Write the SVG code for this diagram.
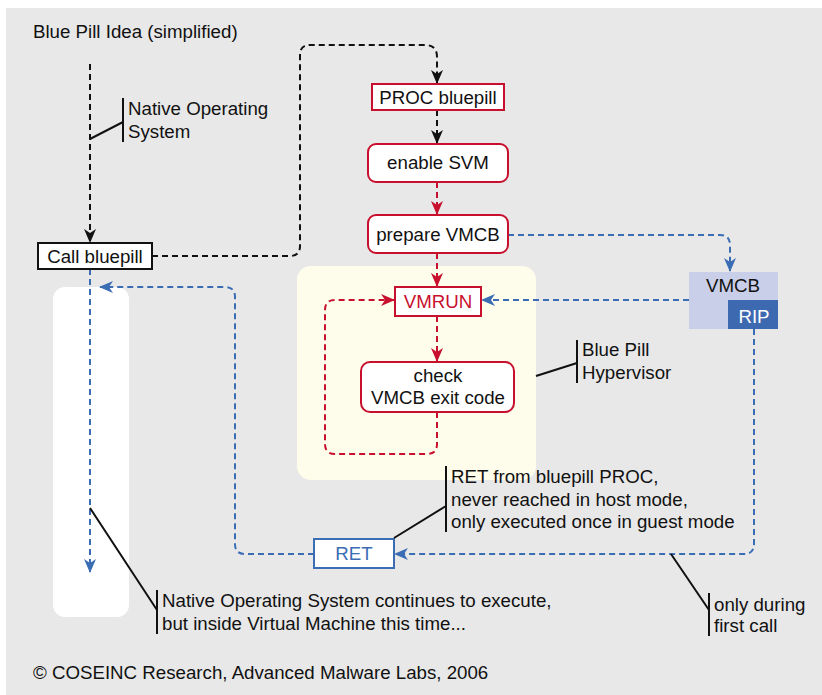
<svg xmlns="http://www.w3.org/2000/svg" width="822" height="695" viewBox="0 0 822 695">
<defs>
<style>
text{font-family:"Liberation Sans",Arial,sans-serif;font-size:18.7px;fill:#111}
.c{text-anchor:middle}
.dk{fill:none;stroke:#111;stroke-width:2;stroke-dasharray:6 4}
.dr{fill:none;stroke:#c8102e;stroke-width:2;stroke-dasharray:6 4}
.db{fill:none;stroke:#3b6db5;stroke-width:2;stroke-dasharray:6 4}
.ld{fill:none;stroke:#111;stroke-width:2}
.bx{fill:#fff;stroke:#c8102e;stroke-width:2}
</style>
<marker id="ak" viewBox="0 0 14 12" refX="13" refY="6" markerWidth="14" markerHeight="12" markerUnits="userSpaceOnUse" orient="auto"><path d="M0,0 L14,6 L0,12 L4,6 z" fill="#111"/></marker>
<marker id="ar" viewBox="0 0 14 12" refX="13" refY="6" markerWidth="14" markerHeight="12" markerUnits="userSpaceOnUse" orient="auto"><path d="M0,0 L14,6 L0,12 L4,6 z" fill="#c8102e"/></marker>
<marker id="ab" viewBox="0 0 14 12" refX="13" refY="6" markerWidth="14" markerHeight="12" markerUnits="userSpaceOnUse" orient="auto"><path d="M0,0 L14,6 L0,12 L4,6 z" fill="#3b6db5"/></marker>
</defs>
<rect x="6" y="8" width="816" height="687" fill="#e8e8e8"/>
<rect id="hypervisor-area" x="297" y="266" width="239" height="214" rx="14" fill="#fefdeb"/>
<rect id="guest-area" x="53" y="287" width="76" height="330" rx="12" fill="#fff"/>
<text x="33" y="38">Blue Pill Idea (simplified)</text>
<g id="connectors">
<path class="dk" d="M90,64 V242" marker-end="url(#ak)"/>
<path class="dk" d="M152,256 H290 Q300,256 300,246 V55 Q300,45 310,45 H425 Q437,45 437,57 V83" marker-end="url(#ak)"/>
<path class="dk" d="M437,110 V143" marker-end="url(#ak)"/>
<path class="dr" d="M437,182 V214" marker-end="url(#ar)"/>
<path class="dr" d="M437,253 V286" marker-end="url(#ar)"/>
<path class="dr" d="M437,316 V361" marker-end="url(#ar)"/>
<path class="dr" d="M437,412 V444 Q437,454 427,454 H335 Q325,454 325,444 V310 Q325,300 335,300 H394" marker-end="url(#ar)"/>
<path class="db" d="M508,235 H720 Q730,235 730,245 V271" marker-end="url(#ab)"/>
<path class="db" d="M689,300 H482" marker-end="url(#ab)"/>
<path class="db" d="M754,329 V544 Q754,554 744,554 H395" marker-end="url(#ab)"/>
<path class="db" d="M314,554 H245 Q235,554 235,544 V297 Q235,287 225,287 H100" marker-end="url(#ab)"/>
<path class="db" d="M90,269 V572" marker-end="url(#ab)"/>
</g>
<g id="call-bluepill"><rect x="38" y="243" width="114" height="26" fill="#fff" stroke="#111" stroke-width="2"/><text class="c" x="95" y="263">Call bluepill</text></g>
<g id="proc-bluepill"><rect class="bx" x="372" y="84" width="132" height="26"/><text class="c" x="438" y="104">PROC bluepill</text></g>
<g id="enable-svm"><rect class="bx" x="368" y="144" width="140" height="38" rx="8"/><text class="c" x="438" y="169">enable SVM</text></g>
<g id="prepare-vmcb"><rect class="bx" x="368" y="215" width="140" height="38" rx="8"/><text class="c" x="438" y="241">prepare VMCB</text></g>
<g id="vmrun"><rect class="bx" x="395" y="287" width="86" height="29"/><text class="c" x="438" y="308" style="fill:#c8102e">VMRUN</text></g>
<g id="check-exit"><rect class="bx" x="361" y="362" width="153" height="50" rx="9"/><text class="c" x="438" y="382">check</text><text class="c" x="438" y="404">VMCB exit code</text></g>
<g id="vmcb"><rect x="689" y="272" width="89" height="57" fill="#c9cfe8"/><rect x="728" y="300" width="50" height="29" fill="#3d69b1"/><text class="c" x="733" y="292">VMCB</text><text class="c" x="754" y="323" style="fill:#fff">RIP</text></g>
<g id="ret"><rect x="314" y="539" width="80" height="29" fill="#fff" stroke="#3b6db5" stroke-width="2"/><text class="c" x="354" y="560" style="fill:#3b6db5">RET</text></g>
<g id="note-native">
<path class="ld" d="M90,139 L123,122 M123,98 V142"/>
<text x="128" y="115">Native Operating</text><text x="128" y="138">System</text>
</g>
<g id="note-hypervisor">
<path class="ld" d="M536,376 L577,363 M577,340 V383"/>
<text x="582" y="356">Blue Pill</text><text x="582" y="379">Hypervisor</text>
</g>
<g id="note-ret">
<path class="ld" d="M394,538 L446,506 M446,466 V532"/>
<text x="451" y="483">RET from bluepill PROC,</text><text x="451" y="506">never reached in host mode,</text><text x="451" y="528">only executed once in guest mode</text>
</g>
<g id="note-first">
<path class="ld" d="M671,554 L709,610 M709,593 V636"/>
<text x="714" y="611">only during</text><text x="714" y="632">first call</text>
</g>
<g id="note-continues">
<path class="ld" d="M90,508 L157,610 M157,590 V634"/>
<text x="162" y="607">Native Operating System continues to execute,</text><text x="162" y="630">but inside Virtual Machine this time...</text>
</g>
<text x="33" y="679">© COSEINC Research, Advanced Malware Labs, 2006</text>
</svg>
